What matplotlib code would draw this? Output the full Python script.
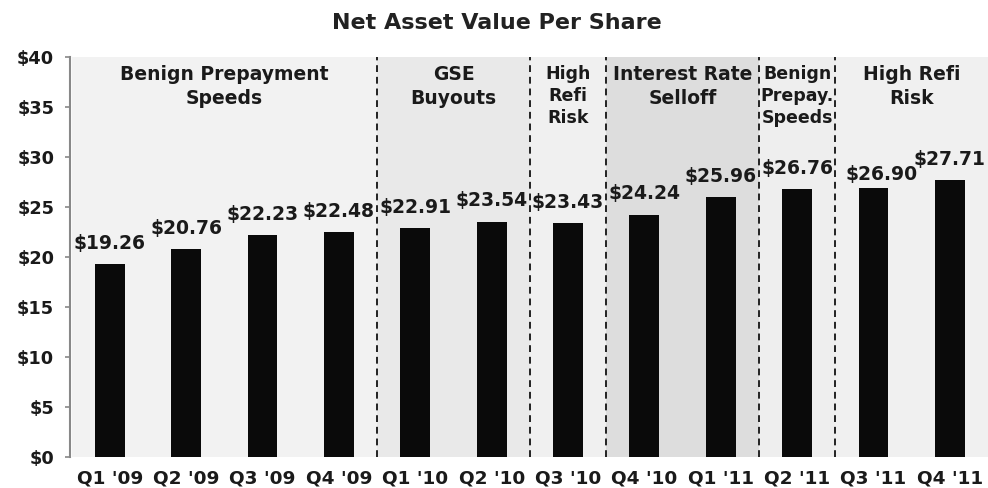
import matplotlib.pyplot as plt

quarters = ["Q1 '09", "Q2 '09", "Q3 '09", "Q4 '09", "Q1 '10", "Q2 '10",
            "Q3 '10", "Q4 '10", "Q1 '11", "Q2 '11", "Q3 '11", "Q4 '11"]
nav = [19.26, 20.76, 22.23, 22.48, 22.91, 23.54,
       23.43, 24.24, 25.96, 26.76, 26.90, 27.71]

# regions: label, first quarter index, last quarter index, shade
region_labels = ["Benign Prepayment\nSpeeds", "GSE\nBuyouts", "High\nRefi\nRisk",
                 "Interest Rate\nSelloff", "Benign\nPrepay.\nSpeeds", "High Refi\nRisk"]
region_start = [0, 4, 6, 7, 9, 10]
region_end = [3, 5, 6, 8, 9, 11]
region_shade = ["#f2f2f2", "#e9e9e9", "#f0f0f0", "#dddddd", "#eeeeee", "#f0f0f0"]

plt.rcParams['font.family'] = ['DejaVu Sans']

fig = plt.figure(figsize=(9.88, 4.88), dpi=100)
ax = fig.add_axes([0.071, 0.064, 0.929, 0.819])

x = list(range(len(quarters)))
xmin, xmax = -0.52, len(quarters) - 0.5
ax.set_xlim(xmin, xmax)
ax.set_ylim(0, 40)

for i, lab in enumerate(region_labels):
    lo = max(region_start[i] - 0.5, xmin)
    hi = min(region_end[i] + 0.5, xmax)
    ax.axvspan(lo, hi, color=region_shade[i], lw=0, zorder=0)
    fs = 12.5 if region_end[i] == region_start[i] else 13.5
    ax.text((lo + hi) / 2, 39.2, lab, ha='center', va='top', fontsize=fs,
            fontweight='bold', color='#1a1a1a', linespacing=1.3, zorder=3)
    if i > 0:
        ax.axvline(lo, color='#222222', lw=1.4, ls=(0, (3.5, 2.5)), zorder=2)

ax.bar(x, nav, width=0.39, color='#0a0a0a', zorder=2)
for i, (xi, v) in enumerate(zip(x, nav)):
    # Q3 '11 label sits lower and to the right in the original
    dx, dy = (6, 3) if i == 10 else (0, 8)
    ax.annotate(f"${v:.2f}", (xi, v), xytext=(dx, dy), textcoords='offset points',
                ha='center', va='bottom', fontsize=13.5, fontweight='bold',
                color='#1a1a1a', zorder=4)

ax.set_xticks(x)
ax.set_xticklabels(quarters, fontsize=13.3, fontweight='bold', color='#1a1a1a')
ax.set_yticks(range(0, 41, 5))
ax.set_yticklabels([f"${t}" for t in range(0, 41, 5)], fontsize=12.8,
                   fontweight='bold', color='#1a1a1a')
ax.tick_params(axis='x', length=0, pad=9)
ax.tick_params(axis='y', length=3.5, width=1.2, color='#888888', pad=8)

for s in ['top', 'right', 'bottom']:
    ax.spines[s].set_visible(False)
ax.spines['left'].set_color('#888888')
ax.spines['left'].set_linewidth(1.5)

fig.text(0.503, 0.953, "Net Asset Value Per Share", ha='center', va='center',
         fontsize=16, fontweight='bold', color='#222222')

fig.savefig("out.png", dpi=100)
